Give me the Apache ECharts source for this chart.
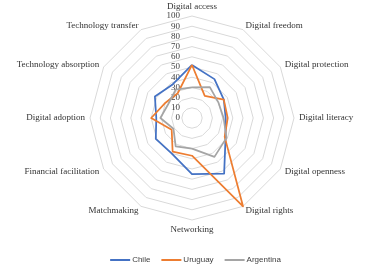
<!DOCTYPE html>
<html>
<head>
<meta charset="utf-8">
<script src="https://cdn.jsdelivr.net/npm/echarts@6/dist/echarts.min.js"></script>
<style>
  html, body { margin: 0; padding: 0; background: #fff; }
  #chart { width: 391px; height: 270px; }
</style>
</head>
<body>
<div id="chart"></div>
<script>
// indicators, clockwise from the top (as in the original)
var categories = ['Digital access', 'Digital freedom', 'Digital protection', 'Digital literacy',
    'Digital openness', 'Digital rights', 'Networking', 'Matchmaking',
    'Financial facilitation', 'Digital adoption', 'Technology absorption', 'Technology transfer'];

var chile     = [52, 44, 36, 33, 38, 63, 55, 40, 41, 35, 42, 38];
var uruguay   = [52, 25, 36, 35, 37, 100, 37, 38, 23, 40, 30, 28];
var argentina = [30, 35, 30, 31, 39, 44, 30, 32, 21, 31, 27, 32];

var tickLabels = [0, 10, 20, 30, 40, 50, 60, 70, 80, 90, 100];

var seriesNames = ['Chile', 'Uruguay', 'Argentina'];
var colors = ['#4472C4', '#ED7D31', '#A5A5A5'];

// echarts lays radar indicators out counter-clockwise, so flip the order after the first
function clockwise(arr) {
    return [arr[0]].concat(arr.slice(1).reverse());
}

var axisMax = tickLabels[tickLabels.length - 1];
var indicator = clockwise(categories).map(function (name, i) {
    var ind = { name: name, min: tickLabels[0], max: axisMax };
    if (i === 0) {
        ind.axisLabel = { show: true };   // only the top spoke carries the scale
    }
    return ind;
});

var chart = echarts.init(document.getElementById('chart'));

var option = {
    animation: false,
    color: colors,
    legend: {
        data: seriesNames,
        left: 'center',
        top: 251,
        icon: 'rect',
        itemWidth: 20,
        itemHeight: 2,
        itemGap: 11,
        textStyle: { fontFamily: 'Liberation Sans', fontSize: 8, color: '#404040', padding: [0, 0, 0, -3] }
    },
    radar: {
        center: [192, 118],
        radius: 102,
        startAngle: 90,
        shape: 'polygon',
        splitNumber: tickLabels.length - 1,
        nameGap: 5,
        axisName: { color: '#333333', fontSize: 9, fontFamily: 'Liberation Serif' },
        axisLine: { show: false },
        axisTick: { show: false },
        axisLabel: {
            show: false,
            fontSize: 9,
            fontFamily: 'Liberation Serif',
            color: '#404040',
            margin: 12
        },
        splitLine: { lineStyle: { color: '#D9D9D9', width: 1 } },
        splitArea: { show: false },
        indicator: indicator
    },
    series: [{
        type: 'radar',
        symbol: 'none',
        lineStyle: { width: 1.75 },
        data: [
            { name: seriesNames[0], value: clockwise(chile) },
            { name: seriesNames[1], value: clockwise(uruguay) },
            { name: seriesNames[2], value: clockwise(argentina) }
        ]
    }]
};

chart.setOption(option);
</script>
</body>
</html>
